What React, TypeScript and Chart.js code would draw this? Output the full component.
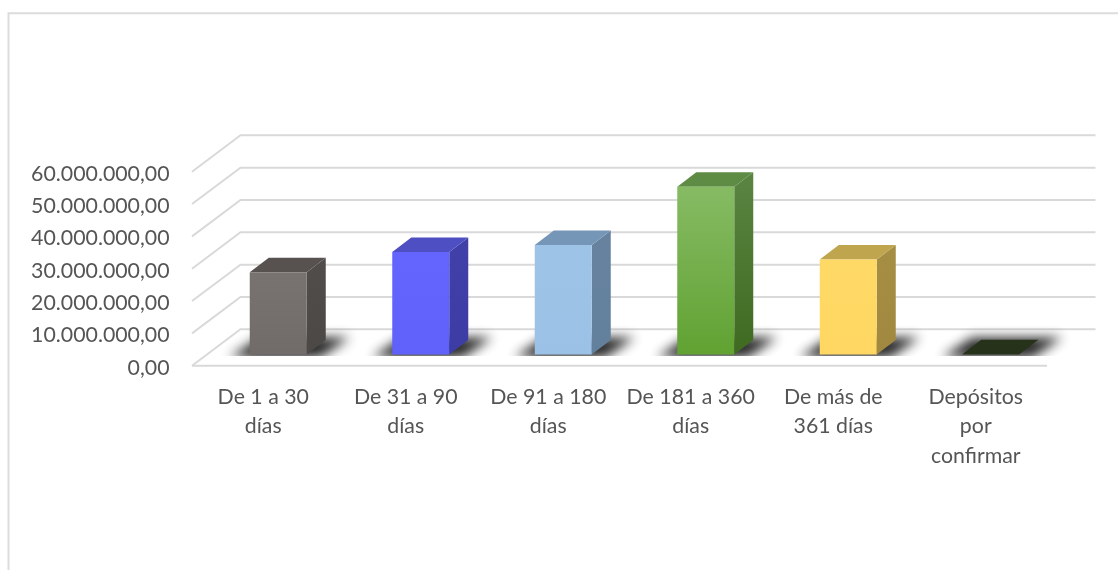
import React, { useEffect, useRef } from "react";
import { Chart, registerables } from "chart.js";

Chart.register(...registerables);

const categories = [
  ["De 1 a 30", "días"],
  ["De 31 a 90", "días"],
  ["De 91 a 180", "días"],
  ["De 181 a 360", "días"],
  ["De más de", "361 días"],
  ["Depósitos", "por", "confirmar"],
];
const values = [25400000, 31700000, 33900000, 51900000, 29400000, 60000];
const frontTop = ["#787371", "#6464ff", "#9dc3e6", "#86bb64", "#ffd966", "#26331a"];
const frontBottom = ["#716c6a", "#6060fb", "#9bc1e6", "#61a232", "#ffd762", "#26331a"];
const topFaces = ["#575250", "#4f4fc4", "#7696b8", "#5e8c45", "#bfa54d", "#26331a"];
const sideTop = ["#504c4a", "#4040a8", "#66829f", "#588340", "#a58d43", "#26331a"];
const sideBottom = ["#4c4846", "#3c3ca4", "#62809c", "#3f6a20", "#a08840", "#26331a"];

const GRID = "#d9d9d9";
const TEXT = "#555555";
const FONT = "Lato";

// depth of the floor, and of each bar
const WALL = { dx: 48.5, dy: -36.4 };
const BAR_SHIFT = { dx: 15, dy: -11.2 };
const BAR_DEPTH = { dx: 19, dy: -14.5 };

const threeD = {
  id: "threeD",
  beforeDraw(chart: any) {
    const { ctx, chartArea, scales } = chart;
    const y = scales.y;
    ctx.save();
    ctx.lineCap = "butt";
    ctx.strokeStyle = "#dcdcdc";
    ctx.lineWidth = 2;
    ctx.beginPath();
    ctx.moveTo(8.5, 570);
    ctx.lineTo(8.5, 13.3);
    ctx.lineTo(1118, 13.3);
    ctx.stroke();

    ctx.strokeStyle = GRID;
    ctx.lineWidth = 2;
    for (const t of y.ticks) {
      const py = y.getPixelForValue(t.value);
      ctx.beginPath();
      ctx.moveTo(chartArea.left, py);
      ctx.lineTo(chartArea.left + WALL.dx, py + WALL.dy);
      ctx.lineTo(chartArea.right + WALL.dx, py + WALL.dy);
      ctx.stroke();
    }
    const y0 = y.getPixelForValue(0);
    ctx.beginPath();
    ctx.moveTo(chartArea.left, y0);
    ctx.lineTo(chartArea.right, y0);
    ctx.stroke();
    ctx.restore();
  },
  beforeDatasetsDraw(chart: any) {
    const { ctx } = chart;
    const meta = chart.getDatasetMeta(0);
    meta.data.forEach((bar: any, i: number) => {
      const w = bar.width;
      const left = bar.x - w / 2 + BAR_SHIFT.dx;
      const right = left + w;
      const bottom = bar.base + BAR_SHIFT.dy;
      const top = bar.y + BAR_SHIFT.dy;

      // soft shadow on the floor, painted from an off-canvas shape
      const far = 3000;
      ctx.save();
      ctx.beginPath();
      ctx.rect(left - 60, bottom - 40, 240, 41.5);
      ctx.clip();
      ctx.shadowColor = "rgba(25,25,25,0.95)";
      ctx.shadowBlur = 12;
      ctx.shadowOffsetX = far;
      ctx.fillStyle = "#000";
      ctx.beginPath();
      ctx.moveTo(left - 20 - far, bottom + 3);
      ctx.lineTo(left + 70 - far, bottom + 3);
      ctx.lineTo(left + 100 - far, bottom - 17);
      ctx.lineTo(left + 10 - far, bottom - 17);
      ctx.closePath();
      ctx.fill();
      ctx.restore();

      // side
      const g = ctx.createLinearGradient(0, top, 0, bottom);
      g.addColorStop(0, sideTop[i]);
      g.addColorStop(1, sideBottom[i]);
      ctx.fillStyle = g;
      ctx.beginPath();
      ctx.moveTo(right, bottom);
      ctx.lineTo(right + BAR_DEPTH.dx, bottom + BAR_DEPTH.dy);
      ctx.lineTo(right + BAR_DEPTH.dx, top + BAR_DEPTH.dy);
      ctx.lineTo(right, top);
      ctx.closePath();
      ctx.fill();

      // top
      ctx.fillStyle = topFaces[i];
      ctx.beginPath();
      ctx.moveTo(left, top);
      ctx.lineTo(left + BAR_DEPTH.dx, top + BAR_DEPTH.dy);
      ctx.lineTo(right + BAR_DEPTH.dx, top + BAR_DEPTH.dy);
      ctx.lineTo(right, top);
      ctx.closePath();
      ctx.fill();
    });
  },
  beforeDatasetDraw(chart: any) {
    chart.ctx.save();
    chart.ctx.translate(BAR_SHIFT.dx, BAR_SHIFT.dy);
  },
  afterDatasetDraw(chart: any) {
    chart.ctx.restore();
  },
};

export default function App() {
  const ref = useRef<HTMLCanvasElement>(null);
  useEffect(() => {
    const chart = new Chart(ref.current as HTMLCanvasElement, {
      type: "bar",
      data: {
        labels: categories,
        datasets: [
          {
            data: values,
            barPercentage: 0.4,
            categoryPercentage: 1,
            borderWidth: 0,
            clip: false,
            backgroundColor: (c: any) => {
              const { chart: ch, dataIndex: i } = c;
              const y = ch.scales.y;
              if (i === undefined || !y) return frontBottom[0];
              const a = y.getPixelForValue(values[i]);
              const b = y.getPixelForValue(0);
              if (!Number.isFinite(a) || !Number.isFinite(b)) return frontBottom[i];
              const g = ch.ctx.createLinearGradient(0, a, 0, b);
              g.addColorStop(0, frontTop[i]);
              g.addColorStop(1, frontBottom[i]);
              return g;
            },
          },
        ],
      },
      options: {
        responsive: false,
        animation: false,
        layout: { padding: { top: 171.7, right: 71, left: 0, bottom: 0 } },
        plugins: { legend: { display: false }, tooltip: { enabled: false }, title: { display: false } },
        scales: {
          x: {
            grid: { display: false, drawTicks: false },
            border: { display: false },
            afterFit: (s: any) => { s.height = 204.3; },
            ticks: {
              color: TEXT,
              padding: 17,
              maxRotation: 0,
              autoSkip: false,
              font: { family: FONT, size: 21.3, lineHeight: 1.37 },
            },
          },
          y: {
            min: 0,
            max: 60000000,
            grid: { display: false, drawTicks: false },
            border: { display: false },
            afterFit: (s: any) => { s.width = 192; },
            ticks: {
              stepSize: 10000000,
              color: TEXT,
              padding: 22.5,
              labelOffset: 2,
              font: { family: FONT, size: 21.3 },
              callback: (v: any) =>
                Number(v).toLocaleString("es-ES", { minimumFractionDigits: 2, maximumFractionDigits: 2 }),
            },
          },
        },
      },
      plugins: [threeD],
    } as any);
    return () => chart.destroy();
  }, []);
  return (
    <div style={{ position: "absolute", left: 0, top: 0, width: 1118, height: 570, background: "#fff" }}>
      <canvas ref={ref} width={1118} height={570} style={{ display: "block", filter: "blur(0.4px)" }} />
    </div>
  );
}
